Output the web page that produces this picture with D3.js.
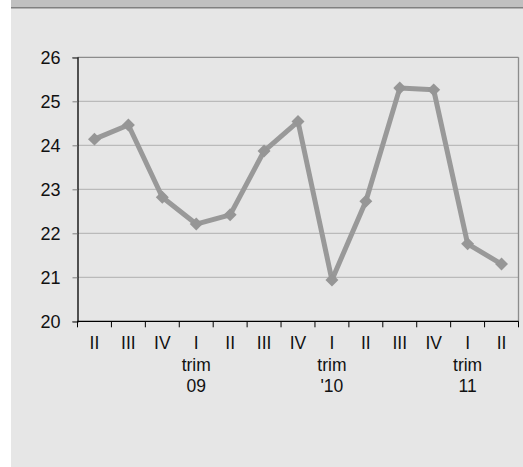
<!DOCTYPE html>
<html>
<head>
<meta charset="utf-8">
<script src="https://cdn.jsdelivr.net/npm/d3@7"></script>
<style>
  html, body { margin: 0; padding: 0; background: #ffffff; }
  svg { display: block; }
  text { font-family: "Liberation Sans", Arial, sans-serif; fill: #111; }
</style>
</head>
<body>
<svg id="chart" width="523" height="467"></svg>
<script>
const quarters = ["II", "III", "IV", "I", "II", "III", "IV", "I", "II", "III", "IV", "I", "II"];
const yearLabels = ["", "", "", "09", "", "", "", "'10", "", "", "", "11", ""];
const values = [24.14, 24.46, 22.82, 22.21, 22.42, 23.87, 24.54, 20.94, 22.73, 25.30, 25.26, 21.76, 21.30];
const yTicks = [20, 21, 22, 23, 24, 25, 26];

(function () {
const svg = d3.select("#chart");
const W = 523, H = 467;

// background
svg.append("rect").attr("x", 11).attr("y", 0).attr("width", W - 11).attr("height", H).attr("fill", "#e6e6e6");
svg.append("rect").attr("x", 11).attr("y", 0).attr("width", W - 11).attr("height", 7).attr("fill", "#c0c0c0");
svg.append("rect").attr("x", 11).attr("y", 7).attr("width", W - 11).attr("height", 1.5).attr("fill", "#808080");

const pl = 77.5, pr = 518.5, pt = 57.3, pb = 321.3;
const idx = d3.range(quarters.length);
const x = d3.scaleBand().domain(idx).range([pl, pr]);
const y = d3.scaleLinear().domain([20, 26]).range([pb, pt]);

// grid lines
svg.append("g").selectAll("line").data(yTicks.filter(v => v > 20 && v < 26)).join("line")
  .attr("x1", pl).attr("x2", pr)
  .attr("y1", d => y(d)).attr("y2", d => y(d))
  .attr("stroke", "#b0b0b0").attr("stroke-width", 1);

// plot border top and right
svg.append("line").attr("x1", pl).attr("x2", pr).attr("y1", y(26)).attr("y2", y(26))
  .attr("stroke", "#8c8c8c").attr("stroke-width", 1.3);
svg.append("line").attr("x1", pr).attr("x2", pr).attr("y1", y(26)).attr("y2", pb)
  .attr("stroke", "#8c8c8c").attr("stroke-width", 1.3);

// y axis
const yAxis = d3.axisLeft(y).tickValues(yTicks).tickSize(5).tickPadding(12).tickFormat(d3.format("d"));
const gy = svg.append("g").attr("transform", `translate(${pl},0)`).call(yAxis);
gy.select(".domain").attr("stroke", "#000").attr("stroke-width", 1.3);
gy.selectAll(".tick line").attr("stroke", "#808080");
gy.selectAll("text").style("font-size", "18px").style("font-family", "'Liberation Sans', Arial, sans-serif")
  .attr("fill", "#111").attr("dy", "0.36em");

// x axis (ticks at band boundaries)
const bounds = d3.range(quarters.length + 1).map(i => pl + i * x.step());
const gx = svg.append("g");
gx.append("line").attr("x1", pl).attr("x2", pr).attr("y1", pb).attr("y2", pb)
  .attr("stroke", "#000").attr("stroke-width", 1.3);
gx.selectAll("line.tk").data(bounds).join("line").attr("class", "tk")
  .attr("x1", d => d).attr("x2", d => d).attr("y1", pb).attr("y2", pb + 6)
  .attr("stroke", "#000").attr("stroke-width", 1);

const lbl = svg.append("g");
idx.forEach(i => {
  const cx = x(i) + x.bandwidth() / 2;
  lbl.append("text").attr("x", cx).attr("y", 349.3).attr("text-anchor", "middle")
    .style("font-size", "17.5px").text(quarters[i]);
  if (yearLabels[i]) {
    lbl.append("text").attr("x", cx).attr("y", 370.7).attr("text-anchor", "middle")
      .style("font-size", "17.5px").text("trim");
    lbl.append("text").attr("x", cx).attr("y", 391.7).attr("text-anchor", "middle")
      .style("font-size", "17.5px").text(yearLabels[i]);
  }
});

// line
const line = d3.line().x((d, i) => x(i) + x.bandwidth() / 2).y(d => y(d));
svg.append("path").datum(values).attr("d", line)
  .attr("fill", "none").attr("stroke", "#999999").attr("stroke-width", 5).attr("stroke-linejoin", "round");

// markers
svg.append("g").selectAll("path").data(values).join("path")
  .attr("d", d3.symbol().type(d3.symbolSquare).size(84))
  .attr("transform", (d, i) => `translate(${x(i) + x.bandwidth() / 2},${y(d)}) rotate(45)`)
  .attr("fill", "#969696");
})();
</script>
</body>
</html>
